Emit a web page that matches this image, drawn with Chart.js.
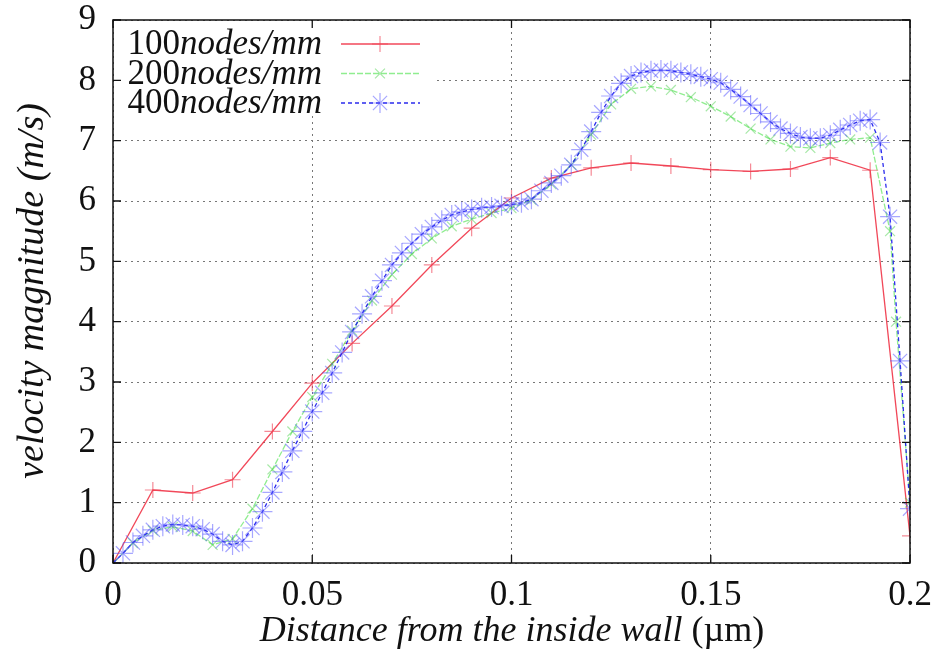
<!DOCTYPE html>
<html>
<head>
<meta charset="utf-8">
<script src="https://cdn.jsdelivr.net/npm/chart.js@4.4.0/dist/chart.umd.min.js"></script>
<style>
html, body { margin: 0; padding: 0; background: #fff; }
</style>
</head>
<body>
<canvas id="velocity_chart" width="940" height="651"></canvas>
<script>
// series names and axis texts
const seriesLabels = ['100nodes/mm', '200nodes/mm', '400nodes/mm'];
const xTitle = 'Distance from the inside wall';
const xUnit = '(\u00b5m)';
const yTitle = 'velocity magnitude (m/s)';
const xTickLabels = ['0', '0.05', '0.1', '0.15', '0.2'];
const yTickLabels = ['0', '1', '2', '3', '4', '5', '6', '7', '8', '9'];

// 100 nodes/mm
const xRed = [0, 0.01, 0.02, 0.03, 0.04, 0.05, 0.06, 0.07, 0.08, 0.09, 0.1,
    0.11, 0.12, 0.13, 0.14, 0.15, 0.16, 0.17, 0.18, 0.19, 0.2];
const yRed = [0, 1.21, 1.16, 1.38, 2.18, 2.98, 3.64, 4.26, 4.94, 5.55, 6.05,
    6.38, 6.55, 6.63, 6.58, 6.52, 6.49, 6.53, 6.72, 6.51, 0.45];

// 200 nodes/mm
const xGreen = [0, 0.005, 0.01, 0.015, 0.02, 0.025, 0.03, 0.035, 0.04, 0.045,
    0.05, 0.055, 0.06, 0.065, 0.07, 0.075, 0.08, 0.085, 0.09, 0.095,
    0.1, 0.105, 0.11, 0.115, 0.12, 0.125, 0.13, 0.135, 0.14, 0.145,
    0.15, 0.155, 0.16, 0.165, 0.17, 0.175, 0.18, 0.185, 0.19, 0.195,
    0.1965, 0.2];
const yGreen = [0, 0.33, 0.54, 0.6, 0.53, 0.3, 0.4, 0.9, 1.55, 2.18,
    2.75, 3.3, 3.85, 4.35, 4.78, 5.12, 5.38, 5.58, 5.7, 5.8,
    5.88, 6.02, 6.28, 6.6, 7.1, 7.6, 7.86, 7.9, 7.84, 7.72,
    7.57, 7.4, 7.2, 7.02, 6.9, 6.88, 6.96, 7.02, 7.05, 5.5,
    4.0, 1.0];

// 400 nodes/mm
const xBlue = [0, 0.0025, 0.005, 0.0075, 0.01, 0.0125, 0.015, 0.0175, 0.02, 0.0225,
    0.025, 0.0275, 0.03, 0.0325, 0.035, 0.0375, 0.04, 0.0425, 0.045, 0.0475,
    0.05, 0.0525, 0.055, 0.0575, 0.06, 0.0625, 0.065, 0.0675, 0.07, 0.0725,
    0.075, 0.0775, 0.08, 0.0825, 0.085, 0.0875, 0.09, 0.0925, 0.095, 0.0975,
    0.1, 0.1025, 0.105, 0.1075, 0.11, 0.1125, 0.115, 0.1175, 0.12, 0.1225,
    0.125, 0.1275, 0.13, 0.1325, 0.135, 0.1375, 0.14, 0.1425, 0.145, 0.1475,
    0.15, 0.1525, 0.155, 0.1575, 0.16, 0.1625, 0.165, 0.1675, 0.17, 0.1725,
    0.175, 0.1775, 0.18, 0.1825, 0.185, 0.1875, 0.19, 0.1925, 0.195, 0.1975,
    0.2];
const yBlue = [0, 0.16, 0.34, 0.45, 0.55, 0.61, 0.64, 0.63, 0.61, 0.56,
    0.48, 0.36, 0.30, 0.36, 0.58, 0.85, 1.17, 1.51, 1.86, 2.18,
    2.51, 2.82, 3.15, 3.49, 3.83, 4.13, 4.42, 4.68, 4.94, 5.14,
    5.30, 5.45, 5.57, 5.68, 5.77, 5.82, 5.86, 5.89, 5.90, 5.92,
    5.94, 5.97, 6.03, 6.17, 6.30, 6.42, 6.60, 6.85, 7.15, 7.47,
    7.74, 7.95, 8.07, 8.13, 8.16, 8.17, 8.16, 8.13, 8.10, 8.06,
    8.02, 7.96, 7.85, 7.73, 7.59, 7.45, 7.31, 7.20, 7.12, 7.06,
    7.04, 7.04, 7.09, 7.18, 7.26, 7.33, 7.35, 6.97, 5.74, 3.35,
    0.9];

const pairs = (xs, ys) => xs.map((x, i) => ({x: x, y: ys[i]}));

const serifFont = '"Liberation Serif", "DejaVu Serif", serif';

const styles = [
    {line: 'rgba(238, 40, 60, 0.85)', point: 'rgba(238, 60, 80, 0.6)', dash: [], shape: 'cross', radius: 8},
    {line: 'rgba(70, 225, 70, 0.6)', point: 'rgba(60, 205, 60, 0.45)', dash: [6, 2], shape: 'crossRot', radius: 7},
    {line: 'rgba(20, 20, 235, 0.9)', point: 'rgba(80, 80, 255, 0.5)', dash: [4, 3], shape: 'star', radius: 10}
];

const seriesData = [pairs(xRed, yRed), pairs(xGreen, yGreen), pairs(xBlue, yBlue)];

const datasets = seriesData.map((d, i) => ({
    label: seriesLabels[i],
    data: d,
    order: 2 - i,
    borderColor: styles[i].line,
    borderWidth: 1.3,
    borderDash: styles[i].dash,
    pointStyle: styles[i].shape,
    pointRadius: styles[i].radius,
    pointBorderColor: styles[i].point,
    pointBorderWidth: 1.2,
    pointBackgroundColor: styles[i].point,
    tension: 0,
    fill: false
}));

const frameAndText = {
    id: 'frameAndText',
    beforeDatasetsDraw(chart) {
        // opaque key box hides grid lines behind it
        const ctx = chart.ctx;
        ctx.save();
        ctx.fillStyle = '#fff';
        ctx.fillRect(115, 21, 318, 95);
        ctx.restore();
    },
    afterDraw(chart) {
        const ctx = chart.ctx;
        const a = chart.chartArea;
        const sx = chart.scales.x;
        const sy = chart.scales.y;
        ctx.save();

        // border
        ctx.strokeStyle = '#111';
        ctx.lineWidth = 1.5;
        ctx.setLineDash([]);
        ctx.strokeRect(a.left, a.top, a.right - a.left, a.bottom - a.top);

        // inward ticks on all four sides
        ctx.lineWidth = 1.3;
        ctx.beginPath();
        sx.ticks.forEach((t) => {
            const px = sx.getPixelForValue(t.value);
            ctx.moveTo(px, a.bottom); ctx.lineTo(px, a.bottom - 8);
            ctx.moveTo(px, a.top); ctx.lineTo(px, a.top + 8);
        });
        sy.ticks.forEach((t) => {
            const py = sy.getPixelForValue(t.value);
            ctx.moveTo(a.left, py); ctx.lineTo(a.left + 8, py);
            ctx.moveTo(a.right, py); ctx.lineTo(a.right - 8, py);
        });
        ctx.stroke();

        // key
        ctx.fillStyle = '#111';
        ctx.textBaseline = 'alphabetic';
        chart.data.datasets.forEach((ds, i) => {
            const yLine = 44 + i * 29.5;
            const m = ds.label.match(/^(\d+)(.*)$/);
            ctx.font = '35px ' + serifFont;
            const w1 = ctx.measureText(m[1]).width;
            ctx.font = 'italic 35px ' + serifFont;
            const w2 = ctx.measureText(m[2]).width;
            const x0 = 322 - w1 - w2;
            ctx.font = '35px ' + serifFont;
            ctx.fillText(m[1], x0, yLine + 10);
            ctx.font = 'italic 35px ' + serifFont;
            ctx.fillText(m[2], x0 + w1, yLine + 10);

            ctx.strokeStyle = ds.borderColor;
            ctx.lineWidth = 1.3;
            ctx.setLineDash(ds.borderDash);
            ctx.beginPath();
            ctx.moveTo(341, yLine);
            ctx.lineTo(420, yLine);
            ctx.stroke();
            ctx.setLineDash([]);
            ctx.strokeStyle = ds.pointBorderColor;
            ctx.lineWidth = 1.2;
            Chart.helpers.drawPoint(ctx, {pointStyle: ds.pointStyle, radius: ds.pointRadius, rotation: 0, borderWidth: 1.2}, 380, yLine);
        });

        // axis titles
        ctx.fillStyle = '#111';
        ctx.font = 'italic 36px ' + serifFont;
        const wt = ctx.measureText(xTitle + ' ').width;
        ctx.font = '36px ' + serifFont;
        const wu = ctx.measureText(xUnit).width;
        const xStart = 512 - (wt + wu) / 2;
        ctx.textAlign = 'left';
        ctx.font = 'italic 36px ' + serifFont;
        ctx.fillText(xTitle + ' ', xStart, 641);
        ctx.font = '36px ' + serifFont;
        ctx.fillText(xUnit, xStart + wt, 641);

        ctx.translate(43, 291);
        ctx.rotate(-Math.PI / 2);
        ctx.textAlign = 'center';
        ctx.font = 'italic 38px ' + serifFont;
        ctx.fillText(yTitle, 0, 0);
        ctx.restore();
    }
};

const ctx = document.getElementById('velocity_chart').getContext('2d');

const velocityChart = new Chart(ctx, {
    type: 'line',
    data: {datasets: datasets},
    options: {
        responsive: false,
        animation: false,
        layout: {padding: {left: 0, top: 20, right: 30, bottom: 0}},
        plugins: {
            legend: {display: false},
            tooltip: {enabled: false}
        },
        scales: {
            x: {
                type: 'linear',
                min: 0,
                max: 0.2,
                ticks: {
                    stepSize: 0.05,
                    maxRotation: 0,
                    padding: 12,
                    color: '#111',
                    font: {family: serifFont, size: 35},
                    callback: (v, i) => xTickLabels[i]
                },
                grid: {color: '#777', lineWidth: 1, drawTicks: false},
                border: {display: false, dash: [2, 4]},
                afterFit: (scale) => {
                    scale.height = 88;
                    scale.paddingLeft = 0;
                    scale.paddingRight = 0;
                }
            },
            y: {
                min: 0,
                max: 9,
                ticks: {
                    stepSize: 1,
                    padding: 17,
                    color: '#111',
                    font: {family: serifFont, size: 35},
                    callback: (v, i) => yTickLabels[i]
                },
                grid: {color: '#777', lineWidth: 1, drawTicks: false},
                border: {display: false, dash: [2, 4]},
                afterFit: (scale) => {
                    scale.width = 113;
                    scale.paddingTop = 0;
                    scale.paddingBottom = 0;
                }
            }
        }
    },
    plugins: [frameAndText]
});
</script>
</body>
</html>
